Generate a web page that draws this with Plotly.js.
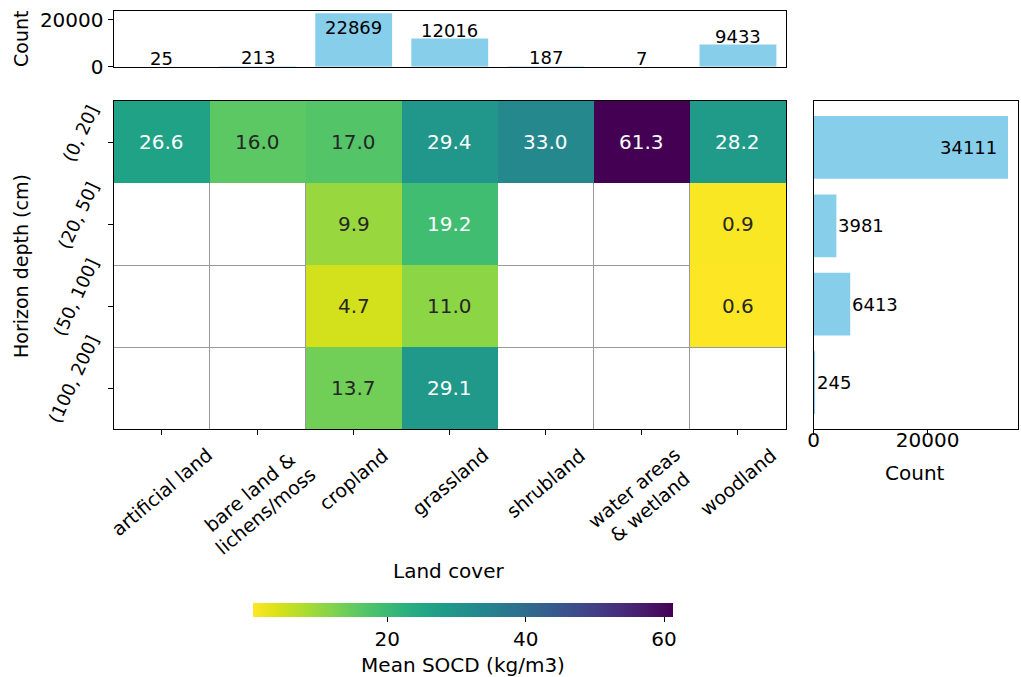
<!DOCTYPE html>
<html>
<head>
<meta charset="utf-8">
<script src="https://cdn.plot.ly/plotly-3.0.1.min.js"></script>
<style>
  html, body { margin: 0; padding: 0; background: #ffffff; }
  #chart { width: 1021px; height: 677px; }
</style>
</head>
<body>
<div id="chart"></div>
<script>
// Land cover classes (x) and horizon depth bands (y)
const landCover = ['artificial land', 'bare land &\nlichens/moss', 'cropland', 'grassland',
                   'shrubland', 'water areas\n& wetland', 'woodland'];
const depthBands = ['(0, 20]', '(20, 50]', '(50, 100]', '(100, 200]'];

// Mean SOCD (kg/m3) per depth band, one array per band; null = no samples
const socd_0_20    = [26.6, 16.0, 17.0, 29.4, 33.0, 61.3, 28.2];
const socd_20_50   = [null, null, 9.9, 19.2, null, null, 0.9];
const socd_50_100  = [null, null, 4.7, 11.0, null, null, 0.6];
const socd_100_200 = [null, null, 13.7, 29.1, null, null, null];
const socdRows = [socd_0_20, socd_20_50, socd_50_100, socd_100_200];

// Sample counts along each margin
const countByLandCover = [25, 213, 22869, 12016, 187, 7, 9433];
const countByDepth = [34111, 3981, 6413, 245];

const colorbarTicks = [20, 40, 60];
const countTicks = [0, 20000];

// ---- page geometry helpers (margins are zero, so paper == page pixels) ----
const W = 1021, H = 677;
const px = p => p / W;
const py = p => 1 - p / H;

const FONT = 'DejaVu Sans, Verdana, sans-serif';
const BLUE = '#87ceeb';
const DARK = '#262626';

const colIdx = landCover.map((_, i) => i);
const rowIdx = depthBands.map((_, i) => i);

const allVals = socdRows.flat().filter(v => v !== null);
const zMin = Math.min(...allVals), zMax = Math.max(...allVals);

const topMax = Math.max(...countByLandCover);
const sideMax = Math.max(...countByDepth);

const traces = [
  {
    type: 'heatmap',
    x: colIdx, y: rowIdx, z: socdRows,
    colorscale: 'Viridis', reversescale: true,
    zmin: zMin, zmax: zMax,
    xaxis: 'x', yaxis: 'y',
    hoverongaps: false,
    colorbar: {
      orientation: 'h',
      x: px(463), xanchor: 'center',
      y: py(603), yanchor: 'top',
      len: 420, lenmode: 'pixels',
      thickness: 14, thicknessmode: 'pixels',
      outlinewidth: 0, xpad: 0, ypad: 0,
      tickmode: 'array', tickvals: colorbarTicks,
      ticks: 'outside', ticklen: 5, tickcolor: '#000', tickwidth: 1,
      tickfont: { family: FONT, size: 20, color: '#000' },
      title: { text: 'Mean SOCD (kg/m3)', side: 'bottom', font: { family: FONT, size: 20, color: '#000' } }
    }
  },
  {
    type: 'bar',
    x: colIdx, y: countByLandCover,
    width: 0.8, marker: { color: BLUE, line: { width: 0 } },
    xaxis: 'x2', yaxis: 'y2', hoverinfo: 'y'
  },
  {
    type: 'bar', orientation: 'h',
    x: countByDepth, y: rowIdx,
    width: 0.8, marker: { color: BLUE, line: { width: 0 } },
    xaxis: 'x3', yaxis: 'y3', hoverinfo: 'x'
  }
];

const frame = { showline: true, mirror: true, linecolor: '#000', linewidth: 1, zeroline: false, showgrid: false };
const tickFont = { family: FONT, size: 20, color: '#000' };

const annotations = [];

// values printed in each heatmap cell
socdRows.forEach((row, r) => row.forEach((v, c) => {
  if (v === null) return;
  annotations.push({
    xref: 'x', yref: 'y', x: c, y: r, text: v.toFixed(1), showarrow: false,
    xanchor: 'center', yanchor: 'middle',
    font: { family: FONT, size: 20, color: v > 18 ? '#ffffff' : DARK }
  });
}));

// rotated land cover labels under the heatmap
landCover.forEach((name, c) => annotations.push({
  xref: 'x', yref: 'paper', x: c, y: py(441), xanchor: 'center', yanchor: 'top',
  text: name.replace('\n', '<br>'), textangle: -40, showarrow: false, align: 'center',
  font: { family: FONT, size: 19, color: '#000' }
}));

// rotated depth band labels left of the heatmap
depthBands.forEach((name, r) => annotations.push({
  xref: 'paper', yref: 'y', x: px(105), y: r, xanchor: 'right', yanchor: 'middle',
  yshift: 9, text: name, textangle: -65, showarrow: false,
  font: { family: FONT, size: 18, color: '#000' }
}));

// count labels on the top bars
countByLandCover.forEach((n, i) => {
  const inside = n > 0.9 * topMax;
  annotations.push({
    xref: 'x2', yref: 'y2', x: i, y: n, text: String(n), showarrow: false,
    xanchor: 'center', yanchor: inside ? 'top' : 'bottom', yshift: inside ? -2 : -4,
    font: { family: FONT, size: 18, color: '#000' }
  });
});

// count labels on the side bars
countByDepth.forEach((n, i) => {
  const inside = n > 0.9 * sideMax;
  annotations.push({
    xref: 'x3', yref: 'y3', x: n, y: i, text: String(n), showarrow: false,
    xanchor: inside ? 'right' : 'left', yanchor: 'middle', xshift: inside ? -9 : 0,
    font: { family: FONT, size: 18, color: '#000' }
  });
});

// axis titles
const title = (x, y, text, angle, size) => ({
  xref: 'paper', yref: 'paper', x: px(x), y: py(y), xanchor: 'center', yanchor: 'middle',
  text: text, textangle: angle, showarrow: false, font: { family: FONT, size: size, color: '#000' }
});
annotations.push(
  title(21, 39, 'Count', -90, 19),
  title(21, 266, 'Horizon depth (cm)', -90, 19),
  title(915, 473, 'Count', 0, 20),
  title(449, 571, 'Land cover', 0, 20)
);

const layout = {
  width: W, height: H,
  margin: { l: 0, r: 0, t: 0, b: 0, pad: 0 },
  paper_bgcolor: '#ffffff', plot_bgcolor: '#ffffff',
  showlegend: false,
  font: { family: FONT, color: '#000' },

  // heatmap
  xaxis: Object.assign({}, frame, {
    domain: [px(113.5), px(786)], range: [-0.5, landCover.length - 0.5], anchor: 'y',
    tickmode: 'array', tickvals: colIdx, showticklabels: false,
    ticks: 'outside', ticklen: 5, tickcolor: '#000',
    minor: { tickmode: 'array', tickvals: colIdx.slice(1).map(i => i - 0.5), showgrid: true, gridcolor: '#999999', gridwidth: 1, ticks: '' }
  }),
  yaxis: Object.assign({}, frame, {
    domain: [py(429), py(101)], range: [depthBands.length - 0.5, -0.5], anchor: 'x',
    tickmode: 'array', tickvals: rowIdx, showticklabels: false,
    ticks: 'outside', ticklen: 5, tickcolor: '#000',
    minor: { tickmode: 'array', tickvals: [1.5, 2.5], showgrid: true, gridcolor: '#999999', gridwidth: 1, ticks: '' }
  }),

  // top margin bars
  xaxis2: Object.assign({}, frame, {
    domain: [px(113.5), px(786)], range: [-0.5, landCover.length - 0.5], anchor: 'y2',
    showticklabels: false, ticks: ''
  }),
  yaxis2: Object.assign({}, frame, {
    domain: [py(66.7), py(10.5)], range: [0, topMax * 1.05], anchor: 'x2',
    tickmode: 'array', tickvals: countTicks, ticktext: countTicks.map(String),
    ticks: 'outside', ticklen: 5, tickcolor: '#000',
    tickfont: tickFont
  }),

  // side margin bars
  xaxis3: Object.assign({}, frame, {
    domain: [px(813.7), px(1017.7)], range: [0, sideMax * 1.05], anchor: 'y3',
    tickmode: 'array', tickvals: countTicks, ticktext: countTicks.map(String),
    ticks: 'outside', ticklen: 5, tickcolor: '#000', ticklabelstandoff: -12,
    tickfont: tickFont
  }),
  yaxis3: Object.assign({}, frame, {
    domain: [py(429), py(101)], range: [depthBands.length - 1 + 0.59, -0.59], anchor: 'x3',
    showticklabels: false, ticks: ''
  }),

  annotations: annotations
};

Plotly.newPlot('chart', traces, layout, { displayModeBar: false, staticPlot: true });
</script>
</body>
</html>
